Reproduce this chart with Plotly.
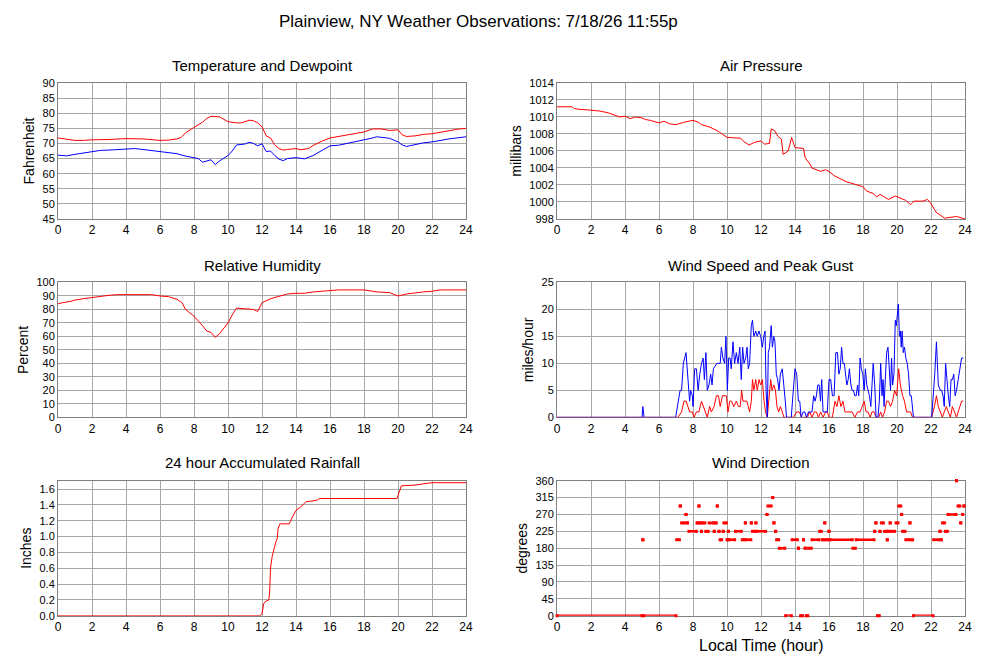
import plotly.graph_objects as go
from plotly.subplots import make_subplots

# Readings for 7/18/26, hour of day on x

# Temperature and dewpoint (F)
temp_hr = [0, 0.5, 1, 1.5, 2, 3, 4, 5, 6, 6.5, 7, 7.25, 7.5, 8, 8.5, 8.75, 9, 9.5, 9.75, 10,
           10.5, 10.75, 11, 11.25, 11.5, 11.75, 12, 12.25, 12.5, 12.75, 13, 13.25, 13.5, 14, 14.25,
           14.5, 14.75, 15, 15.5, 16, 16.5, 17, 17.5, 18, 18.5, 19, 19.5, 20, 20.25, 20.5, 21,
           21.5, 22, 22.5, 23, 23.5, 24]
temp_f = [71.8, 71.5, 71.0, 71.0, 71.2, 71.3, 71.6, 71.5, 71.0, 71.1, 71.5, 72.0, 73.5, 75.3, 77.0,
          78.3, 79.0, 78.8, 78.0, 77.2, 76.8, 76.8, 77.2, 77.7, 77.5, 76.8, 75.5, 72.5, 71.8, 69.5,
          68.3, 67.8, 68.0, 68.3, 67.9, 68.0, 68.3, 69.3, 70.7, 71.8, 72.3, 72.8, 73.5, 73.8, 74.8,
          74.8, 74.3, 74.5, 72.8, 72.3, 72.5, 73.0, 73.2, 73.8, 74.2, 74.7, 75.0]

dew_hr = [0, 0.5, 1, 1.5, 2, 2.5, 3, 4, 4.5, 5, 5.5, 6, 6.5, 7, 7.5, 8, 8.25, 8.5, 8.75, 9,
          9.25, 9.5, 10, 10.25, 10.5, 11, 11.25, 11.5, 11.75, 12, 12.25, 12.5, 12.75, 13, 13.25,
          13.5, 14, 14.5, 15, 15.5, 16, 16.5, 17, 17.5, 18, 18.5, 18.75, 19, 19.5, 20, 20.25,
          20.5, 21, 21.5, 22, 22.5, 23, 24]
dew_f = [66.1, 65.9, 66.4, 66.8, 67.2, 67.7, 67.8, 68.2, 68.3, 68.0, 67.7, 67.2, 67.0, 66.6, 65.8,
         65.4, 65.0, 63.8, 64.2, 64.6, 63.0, 64.2, 66.0, 67.5, 69.5, 69.8, 70.4, 70.0, 69.2, 69.9,
         67.3, 67.5, 66.0, 64.8, 64.3, 65.0, 65.3, 64.9, 66.0, 67.5, 69.2, 69.4, 70.0, 70.4, 71.0,
         71.8, 72.2, 72.0, 71.7, 70.5, 69.5, 69.0, 69.7, 70.2, 70.5, 71.0, 71.5, 72.2]

# Air pressure (mb)
pres_hr = [0, 0.9, 1.0, 1.3, 2, 2.5, 3, 3.5, 3.7, 4, 4.3, 4.6, 5, 5.2, 5.5, 6, 6.3, 6.6, 7, 7.5, 8,
           8.3, 8.5, 9, 9.5, 10, 10.8, 11, 11.3, 11.6, 12, 12.2, 12.5, 12.6, 12.8, 13, 13.2, 13.3,
           13.6, 13.8, 14, 14.5, 14.6, 14.9, 15, 15.5, 15.8, 16, 16.3, 16.6, 17, 17.5, 18, 18.2,
           18.6, 18.8, 19, 19.5, 19.9, 20.5, 20.8, 21, 21.5, 21.8, 22, 22.3, 22.8, 23.5, 23.7, 24]
pres_mb = [1011.2, 1011.2, 1011.0, 1010.9, 1010.8, 1010.7, 1010.5, 1010.2, 1010.0, 1010.1, 1009.8,
           1010.0, 1009.9, 1009.7, 1009.6, 1009.3, 1009.5, 1009.2, 1009.1, 1009.4, 1009.6,
           1009.4, 1009.1, 1008.8, 1008.3, 1007.6, 1007.5, 1007.1, 1006.7, 1007.0, 1007.2,
           1006.8, 1006.9, 1008.6, 1008.4, 1007.7, 1007.4, 1005.6, 1006.0, 1007.6, 1006.4,
           1006.3, 1005.2, 1004.4, 1004.0, 1003.6, 1003.8, 1003.6, 1003.1, 1002.8, 1002.4,
           1002.1, 1001.8, 1001.3, 1001.0, 1000.6, 1000.9, 1000.3, 1000.7, 1000.2, 999.7,
           1000.1, 1000.1, 1000.3, 999.8, 998.8, 998.1, 998.3, 998.2, 998.0]

# Relative humidity (%)
rh_hr = [0, 0.25, 0.75, 1, 1.5, 2, 2.5, 3, 3.5, 5.5, 6, 6.5, 7, 7.3, 7.5, 8, 8.5, 8.75, 9, 9.25,
         9.5, 10, 10.25, 10.5, 11, 11.5, 11.75, 12, 12.5, 13, 13.5, 14, 14.5, 15, 15.5, 16, 16.5,
         18, 18.75, 19.5, 20, 20.5, 21, 21.5, 22, 22.5, 24]
rh_pct = [84.2, 85, 86, 87, 88, 89, 90, 90.5, 91, 91, 90, 89.5, 87.5, 85, 80, 75, 68, 64, 63, 59.3,
          62, 70, 76, 81, 80.5, 80, 78.5, 85, 88, 90, 91.5, 92, 92, 93, 93.5, 94, 94.5,
          94.5, 93, 92.5, 90, 91.5, 92.5, 93, 93.5, 94.5, 94.5]

# Peak gust (mph)
gust_hr = [
    0, 5.0, 5.05, 5.12, 6.98, 7.08, 7.24, 7.33, 7.43, 7.59,
    7.7, 7.8, 7.86, 7.96, 8.0, 8.1, 8.2, 8.3, 8.4, 8.5,
    8.6, 8.67, 8.76, 8.84, 8.94, 9.04, 9.12, 9.2, 9.3, 9.4,
    9.5, 9.6, 9.67, 9.76, 9.86, 9.94, 10.02, 10.1, 10.18, 10.25,
    10.35, 10.45, 10.55, 10.65, 10.75, 10.84, 10.92, 11.0, 11.1, 11.18,
    11.25, 11.33, 11.43, 11.5, 11.58, 11.69, 11.78, 11.88, 11.98, 12.08,
    12.16, 12.24, 12.3, 12.37, 12.43, 12.5, 12.6, 12.67, 12.75, 12.82,
    12.9, 12.98, 13.06, 13.14, 13.25, 13.35, 13.43, 13.5, 13.78, 13.9,
    14.0, 14.1, 14.2, 14.28, 14.36, 14.48, 14.58, 14.67, 14.8, 14.9,
    15.0, 15.1, 15.18, 15.26, 15.34, 15.42, 15.5, 15.57, 15.65, 15.76,
    15.9, 16.0, 16.1, 16.2, 16.3, 16.4, 16.5, 16.58, 16.66, 16.74,
    16.82, 16.9, 16.97, 17.05, 17.13, 17.2, 17.29, 17.36, 17.44, 17.52,
    17.6, 17.68, 17.75, 17.83, 17.9, 17.99, 18.07, 18.14, 18.22, 18.3,
    18.38, 18.46, 18.53, 18.6, 18.69, 18.77, 18.88, 18.96, 19.04, 19.12,
    19.18, 19.24, 19.31, 19.39, 19.47, 19.55, 19.62, 19.68, 19.74, 19.82,
    19.9, 19.96, 20.02, 20.08, 20.14, 20.2, 20.25, 20.3, 20.37, 20.44,
    20.52, 20.6, 20.68, 20.76, 20.84, 20.91, 20.97, 22.04, 22.14, 22.22,
    22.32, 22.43, 22.55, 22.63, 22.71, 22.78, 22.86, 22.94, 23.02, 23.1,
    23.18, 23.26, 23.34, 23.42, 23.5, 23.6, 23.7, 23.8, 23.9,
]
gust_mph = [
    0, 0, 2, 0, 0, 2, 5, 5, 10, 12,
    8, 3, 5, 4, 2, 9, 9, 5, 8, 10,
    11, 7, 12, 5, 6, 8, 6, 9, 9.5, 10,
    10, 10, 13, 11, 10, 15, 5, 11, 11, 9,
    14, 10, 12, 10, 13, 7, 13, 10, 11, 13,
    9, 10, 17, 18, 15, 16, 15, 16, 15, 13,
    15, 16, 5, 0, 12, 13, 17, 13, 15, 14,
    8, 7, 5, 8, 9, 6, 3, 0, 0, 5,
    9, 8, 3, 3, 0, 1, 1, 0, 1, 1,
    1, 4, 3, 4, 6, 6, 3, 7, 1, 1,
    1, 7, 7, 4, 4, 12, 12, 8, 9, 13,
    10, 10, 8, 6, 7, 9, 6, 5, 5, 4,
    4, 6, 4, 11, 9, 8, 5, 9, 6, 5,
    4, 2, 6, 10, 6, 0, 0, 3, 10, 4,
    7, 2, 7, 12, 13, 8, 5, 11, 6, 8,
    18, 17, 19, 21, 15, 16, 13, 16, 12, 13,
    11, 10, 8, 4, 4, 1, 0, 0, 4, 8,
    14, 6, 5, 5, 4, 2, 10, 6, 4, 2,
    7, 7, 8, 4, 5, 7, 9, 11, 11,
]

# Sustained wind speed (mph)
wind_hr = [
    0, 7.1, 7.33, 7.47, 7.6, 7.7, 7.8, 7.96, 8.06, 8.2,
    8.35, 8.5, 8.6, 8.7, 8.84, 8.98, 9.08, 9.24, 9.38, 9.5,
    9.6, 9.73, 9.86, 9.96, 10.06, 10.16, 10.27, 10.4, 10.55, 10.67,
    10.78, 10.86, 10.94, 11.04, 11.16, 11.25, 11.33, 11.43, 11.5, 11.58,
    11.69, 11.78, 11.88, 11.98, 12.08, 12.18, 12.27, 12.37, 12.47, 12.57,
    12.65, 12.75, 12.85, 12.94, 13.04, 13.14, 13.25, 13.35, 13.9, 14.1,
    14.25, 14.4, 14.73, 14.87, 15.0, 15.13, 15.26, 15.38, 15.51, 15.65,
    15.8, 15.9, 16.0, 16.2, 16.35, 16.47, 16.58, 16.7, 16.82, 16.94,
    17.07, 17.2, 17.36, 17.52, 17.68, 17.83, 17.95, 18.07, 18.18, 18.3,
    18.42, 18.53, 18.65, 18.77, 18.92, 19.04, 19.15, 19.27, 19.39, 19.5,
    19.62, 19.74, 19.86, 19.98, 20.1, 20.2, 20.33, 20.44, 20.56, 20.68,
    20.8, 20.91, 22.04, 22.2, 22.32, 22.43, 22.55, 22.67, 22.78, 22.9,
    23.02, 23.14, 23.26, 23.38, 23.5, 23.6, 23.72, 23.8, 23.9,
]
wind_mph = [
    0, 0, 1, 3, 3, 2, 1, 1, 0, 1,
    1, 3, 2, 1, 0, 2, 1, 2, 4, 4,
    2, 4, 4, 4, 1, 3, 3, 2, 3, 2,
    2, 5, 3, 3, 3, 2, 1, 3, 7, 5,
    7, 5, 7, 6, 7, 3, 1, 0, 3, 7,
    5, 6, 5, 2, 1, 2, 1, 0, 0, 1,
    1, 0, 0, 1, 0, 1, 1, 0, 1, 0,
    1, 1, 0, 0, 3, 2, 4, 2, 3, 1,
    1, 1, 1, 0, 1, 1, 2, 3, 1, 1,
    0, 1, 1, 0, 0, 1, 0, 1, 3, 3,
    2, 3, 5, 4, 9, 6, 4, 3, 1, 1,
    1, 0, 0, 2, 4, 2, 1, 0, 1, 2,
    1, 0, 2, 1, 0, 1, 2, 3, 3,
]

# 24 hour accumulated rain (in)
rain_hr = [0, 11.9, 12.0, 12.1, 12.2, 12.4, 12.45, 12.5, 12.6, 12.7, 12.8, 12.9, 12.95, 13.05,
           13.6, 13.75, 13.9, 14.0, 14.25, 14.5, 14.6, 15.0, 15.25, 15.4, 19.95, 20.05, 20.2,
           21.0, 21.4, 22.0, 24]
rain_in = [0, 0, 0.03, 0.15, 0.18, 0.2, 0.3, 0.6, 0.75, 0.85, 0.92, 0.98, 1.1, 1.16,
           1.16, 1.23, 1.28, 1.33, 1.37, 1.42, 1.44, 1.45, 1.46, 1.48, 1.48, 1.55, 1.64,
           1.65, 1.665, 1.68, 1.68]

# Wind direction, as runs of equal readings: start hour, end hour, degrees
dir_start = [0.0, 5.05, 5.1, 7.04, 7.25, 7.33, 7.59, 7.67, 7.76, 8.25,
             8.35, 8.4, 8.5, 8.55, 8.75, 8.95, 9.25, 9.3, 9.43, 9.53,
             9.59, 9.78, 9.82, 10.0, 10.08, 10.13, 10.5, 10.9, 11.08, 11.13,
             11.43, 11.5, 11.7, 11.75, 12.35, 12.41, 12.69, 12.76, 12.86, 12.92,
             13.08, 13.45, 13.83, 14.2, 14.33, 14.5, 14.6, 14.67, 14.8, 15.0,
             15.45, 15.6, 15.75, 15.82, 16.0, 16.05, 17.4, 17.6, 18.69, 18.76,
             18.85, 19.0, 19.08, 19.27, 19.43, 19.48, 19.6, 19.67, 19.94, 20.1,
             20.27, 20.33, 20.52, 20.76, 20.84, 20.97, 22.16, 22.53, 22.6, 22.68,
             22.84, 23.0, 23.5, 23.59, 23.75, 23.86, 23.94]
dir_end = [5.0, 5.05, 7.0, 7.2, 7.25, 7.5, 7.59, 7.67, 8.2, 8.25,
           8.35, 8.45, 8.5, 8.7, 8.9, 9.2, 9.25, 9.37, 9.43, 9.53,
           9.69, 9.78, 9.96, 10.04, 10.08, 10.45, 10.84, 11.04, 11.08, 11.4,
           11.43, 11.65, 11.7, 12.27, 12.35, 12.6, 12.69, 12.76, 12.86, 13.04,
           13.4, 13.78, 14.14, 14.2, 14.45, 14.5, 14.6, 14.75, 14.96, 15.4,
           15.55, 15.7, 15.75, 15.95, 16.0, 17.37, 17.55, 18.65, 18.69, 18.76,
           18.96, 19.0, 19.2, 19.38, 19.43, 19.5, 19.6, 19.86, 20.06, 20.22,
           20.27, 20.47, 20.7, 20.76, 20.92, 22.12, 22.43, 22.53, 22.6, 22.8,
           22.96, 23.47, 23.5, 23.7, 23.75, 23.86, 23.94]
dir_deg = [0, 202.5, 0, 202.5, 292.5, 247.5, 270, 247.5, 225, 247.5,
           292.5, 247.5, 225, 247.5, 225, 247.5, 225, 247.5, 292.5, 225,
           202.5, 225, 247.5, 202.5, 225, 202.5, 225, 202.5, 247.5, 202.5,
           247.5, 225, 247.5, 225, 270, 292.5, 315, 247.5, 225, 202.5,
           180, 0, 202.5, 180, 0, 202.5, 180, 0, 180, 202.5,
           225, 202.5, 247.5, 202.5, 225, 202.5, 180, 202.5, 225, 247.5,
           0, 225, 247.5, 225, 202.5, 225, 247.5, 225, 247.5, 292.5,
           270, 225, 202.5, 247.5, 202.5, 0, 202.5, 225, 202.5, 247.5,
           225, 270, 360, 292.5, 247.5, 270, 292.5]

RED = '#ff0000'
BLUE = '#0000ff'
GRID = '#a6a6a6'
FONT = 'Liberation Sans, Arial, Helvetica, sans-serif'

fig = make_subplots(rows=3, cols=2)

fig.add_trace(go.Scatter(x=temp_hr, y=temp_f, mode='lines', line=dict(color=RED, width=1)), row=1, col=1)
fig.add_trace(go.Scatter(x=dew_hr, y=dew_f, mode='lines', line=dict(color=BLUE, width=1)), row=1, col=1)
fig.add_trace(go.Scatter(x=pres_hr, y=pres_mb, mode='lines', line=dict(color=RED, width=1)), row=1, col=2)
fig.add_trace(go.Scatter(x=rh_hr, y=rh_pct, mode='lines', line=dict(color=RED, width=1)), row=2, col=1)
fig.add_trace(go.Scatter(x=wind_hr, y=wind_mph, mode='lines', line=dict(color=RED, width=1)), row=2, col=2)
fig.add_trace(go.Scatter(x=gust_hr, y=gust_mph, mode='lines', line=dict(color=BLUE, width=1)), row=2, col=2)
fig.add_trace(go.Scatter(x=rain_hr, y=rain_in, mode='lines', line=dict(color=RED, width=1)), row=3, col=1)

# each run becomes a short thick segment, single readings a square dot
dir_x, dir_y = [], []
for s, e, d in zip(dir_start, dir_end, dir_deg):
    dir_x += [s, e, None]
    dir_y += [d, d, None]
fig.add_trace(go.Scatter(x=dir_x, y=dir_y, mode='lines+markers', cliponaxis=False,
                         line=dict(color=RED, width=2.5),
                         marker=dict(color=RED, size=3, symbol='square')), row=3, col=2)

# the page puts the figure 8px in from the top left, domains allow for that
col_dom = {1: [0.050, 0.458], 2: [0.549, 0.957]}
row_dom = {1: [0.6803, 0.8864], 2: [0.3798, 0.5841], 3: [0.0792, 0.2838]}

for r in (1, 2, 3):
    for c in (1, 2):
        fig.update_xaxes(domain=col_dom[c], range=[0, 24], tick0=0, dtick=2,
                         showgrid=True, gridcolor=GRID, gridwidth=1, zeroline=False,
                         showline=True, linecolor='#808080', mirror=True, ticks='',
                         automargin=False, layer='below traces',
                         tickfont=dict(size=12, color='black'), row=r, col=c)
        fig.update_yaxes(domain=row_dom[r], showgrid=True, gridcolor=GRID, gridwidth=1,
                         zeroline=False, showline=True, linecolor='#808080', mirror=True,
                         ticks='', tickfont=dict(size=11, color='black'), automargin=False,
                         layer='below traces',
                         title_font=dict(size=14, color='black'), title_standoff=4,
                         row=r, col=c)

fig.update_yaxes(range=[45, 90], dtick=5, title_text='Fahrenheit', row=1, col=1)
fig.update_yaxes(range=[998, 1014], dtick=2, title_text='millibars', row=1, col=2)
fig.update_yaxes(range=[0, 100], dtick=10, title_text='Percent', row=2, col=1)
fig.update_yaxes(range=[0, 25], dtick=5, title_text='miles/hour', row=2, col=2)
fig.update_yaxes(range=[0, 1.705], tick0=0, dtick=0.2, tickformat='.1f', title_text='Inches', row=3, col=1)
fig.update_yaxes(range=[0, 360], dtick=45, title_text='degrees', row=3, col=2)

titles = [
    ('Temperature and Dewpoint', 0.254, 0.9136),
    ('Air Pressure', 0.753, 0.9136),
    ('Relative Humidity', 0.254, 0.6106),
    ('Wind Speed and Peak Gust', 0.753, 0.6106),
    ('24 hour Accumulated Rainfall', 0.254, 0.3121),
    ('Wind Direction', 0.753, 0.3121),
]
for text, x, y in titles:
    fig.add_annotation(text=text, x=x, y=y, xref='paper', yref='paper', showarrow=False,
                       xanchor='center', yanchor='middle', font=dict(size=15, color='black'))

fig.add_annotation(text='Plainview, NY Weather Observations: 7/18/26 11:55p',
                   x=0.470, y=0.9803, xref='paper', yref='paper', showarrow=False,
                   xanchor='center', yanchor='middle', font=dict(size=17, color='black'))
fig.add_annotation(text='Local Time (hour)', x=0.753, y=0.0348, xref='paper', yref='paper',
                   showarrow=False, xanchor='center', yanchor='middle',
                   font=dict(size=16, color='black'))

fig.update_layout(
    width=1000, height=660,
    margin=dict(l=0, r=0, t=0, b=0, autoexpand=False),
    showlegend=False,
    paper_bgcolor='white',
    plot_bgcolor='white',
    font=dict(family=FONT, color='black'),
)

fig.write_html("out.html")
